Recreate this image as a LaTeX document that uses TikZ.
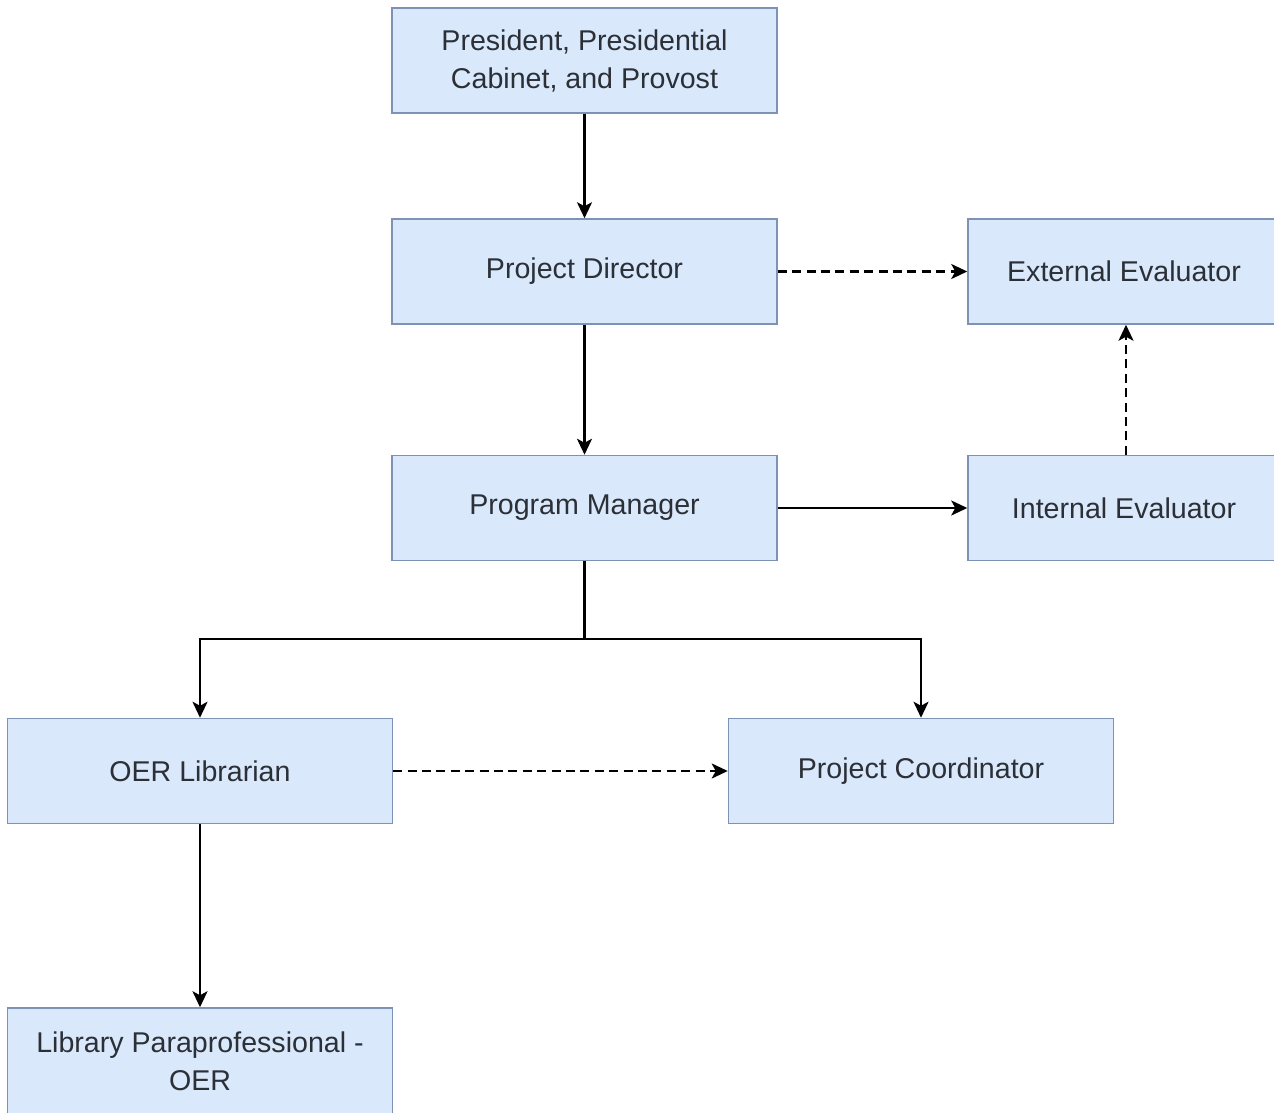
\documentclass[tikz,border=0pt]{standalone}
\usepackage{fontspec}
\setmainfont{Liberation Sans}
\usetikzlibrary{arrows.meta}
\definecolor{boxfill}{HTML}{DAE8FC}
\definecolor{boxline}{HTML}{7D93B5}
\definecolor{txt}{HTML}{2B2F36}
\tikzset{
  box/.style={draw=boxline, fill=boxfill, line width=0.75pt, align=center,
    text=txt, inner sep=0pt, font=\fontsize{14.3}{19}\selectfont,
    minimum width=192.5pt, minimum height=52.5pt},
  sidebox/.style={box, minimum width=156pt},
  conn/.style={line width=1.1pt, -{Stealth[length=8pt,width=7.5pt,inset=2pt]}},
  plain/.style={line width=1.1pt},
  dashconn/.style={conn, dash pattern=on 4.5pt off 2.7pt}
}
\begin{document}
\begin{tikzpicture}[x=0.5pt,y=-0.5pt]
\useasboundingbox (0,0) rectangle (1274,1113);
\clip (0,0) rectangle (1274,1113);
\fill[white] (0,0) rectangle (1274,1113);
\node[box] (pres) at (584.5,60.5) {President, Presidential\\Cabinet, and Provost};
\node[box] (dir) at (584.5,271.5) {Project Director};
\node[sidebox] (ext) at (1124,271.5) {External Evaluator};
\node[box] (pm) at (584.5,508) {Program Manager};
\node[sidebox] (int) at (1124,508) {Internal Evaluator};
\node[box] (oer) at (200,771) {OER Librarian};
\node[box] (coord) at (921,771) {Project Coordinator};
\node[box, minimum height=53pt] (para) at (200,1061) {Library Paraprofessional -\\OER};
\coordinate (split) at (584.5,639);
\draw[conn] (pres.south) -- (dir.north);
\draw[dashconn] (dir.east) -- (ext.west);
\draw[conn] (dir.south) -- (pm.north);
\draw[conn] (pm.east) -- (int.west);
\draw[dashconn] ([xshift=1pt]int.north) -- ([xshift=1pt]ext.south);
\draw[plain] (pm.south) -- (split);
\draw[conn] (split) -| (oer.north);
\draw[conn] (split) -| (coord.north);
\draw[dashconn] (oer.east) -- (coord.west);
\draw[conn] (oer.south) -- (para.north);
\end{tikzpicture}
\end{document}
